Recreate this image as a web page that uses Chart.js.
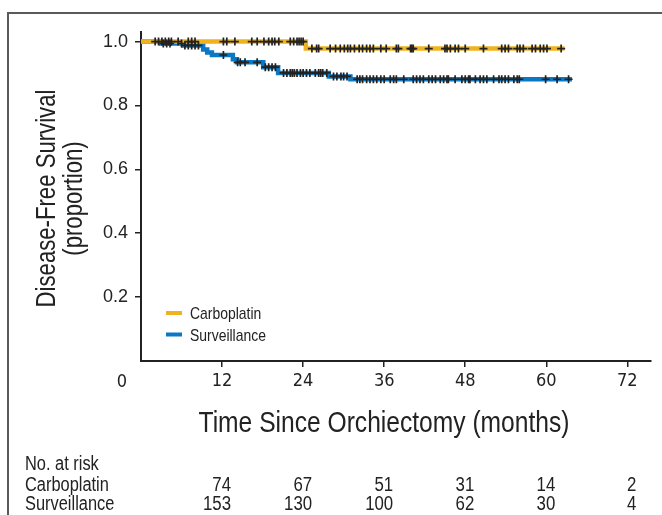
<!DOCTYPE html>
<html>
<head>
<meta charset="utf-8">
<script src="https://cdn.jsdelivr.net/npm/chart.js@4.4.1/dist/chart.umd.min.js"></script>
<style>
  html, body { margin: 0; padding: 0; background: #fff; }
  #wrap { position: relative; width: 662px; height: 515px; overflow: hidden; }
  #frame { position: absolute; left: 7px; top: 12px; width: 700px; height: 600px;
           border-top: 2px solid #5a5a5a; border-left: 2px solid #5a5a5a; }
  #c { position: absolute; left: 0; top: 0; }
</style>
</head>
<body>
<div id="wrap">
  <div id="frame"></div>
  <canvas id="c" width="662" height="515"></canvas>
</div>
<script>
// ---------------- data ----------------
const groups = ['Carboplatin', 'Surveillance'];
const xTickValues = [12, 24, 36, 48, 60, 72];
const yTickValues = [0.2, 0.4, 0.6, 0.8, 1.0];

// Kaplan-Meier steps (time in months, proportion disease-free)
const carboTimes = [0, 24.4, 62.7];
const carboSurv  = [1.0, 0.978, 0.978];
const survTimes  = [0, 3.0, 6.3, 9.2, 9.8, 10.5, 13.6, 14.2, 18.1, 20.3, 27.8, 31.0, 63.8];
const survSurv   = [1.0, 0.994, 0.988, 0.975, 0.966, 0.958, 0.945, 0.935, 0.920, 0.902, 0.891, 0.882, 0.882];

// censoring times (months)
const carboCensor = [2.1, 2.6, 3.1, 3.6, 4.1, 4.5, 5.5, 7.0, 7.5, 8.0, 12.2, 12.7, 13.9, 16.4, 17.2, 18.2,
  18.9, 19.4, 19.8, 20.4, 22.1, 22.6, 23.1, 23.4, 23.7, 24.0, 25.3, 26.0, 26.3, 28.0, 28.8, 29.5, 30.1,
  30.6, 31.0, 31.6, 32.3, 32.8, 33.4, 33.9, 34.4, 35.5, 36.3, 37.8, 38.1, 39.9, 40.1, 40.3, 42.6, 45.0,
  45.3, 45.8, 46.5, 47.0, 48.0, 50.7, 53.4, 53.9, 54.4, 55.7, 56.1, 56.6, 57.9, 58.4, 59.1, 59.6, 60.1, 62.2];
const survCensor = [3.3, 3.8, 4.3, 6.0, 6.5, 7.0, 7.5, 8.0, 8.5, 12.2, 14.3, 14.7, 15.4, 17.2, 18.4, 18.9,
  19.4, 19.9, 21.1, 21.6, 22.1, 22.4, 22.7, 23.1, 23.6, 24.0, 24.5, 25.0, 25.8, 26.3, 26.6, 26.9, 27.5,
  28.5, 29.0, 29.6, 30.0, 30.5, 32.0, 32.4, 32.8, 33.4, 33.9, 34.4, 34.9, 35.5, 36.0, 36.9, 37.4, 37.8,
  38.9, 40.3, 40.8, 41.3, 41.8, 42.6, 43.1, 43.6, 44.3, 44.8, 45.3, 45.5, 46.5, 47.5, 48.0, 48.5, 48.7,
  49.5, 50.2, 50.7, 51.2, 52.2, 53.0, 53.4, 53.9, 54.4, 55.2, 55.7, 56.0, 59.9, 61.6, 63.3];

// number at risk
const atRiskCarbo = [74, 67, 51, 31, 14, 2];
const atRiskSurv  = [153, 130, 100, 62, 30, 4];

const xTitle = 'Time Since Orchiectomy (months)';
const yTitle = ['Disease-Free Survival', '(proportion)'];
const riskHeader = 'No. at risk';

// ---------------- styling ----------------
const YELLOW = '#EFB321';
const BLUE = '#0A78C3';
const INK = '#222222';
const SANS = "'Liberation Sans', Arial, sans-serif";
const COND = "'DejaVu Sans Condensed', 'Liberation Sans', sans-serif";
const NARROW_X = 0.82;   // horizontal compression for a narrow sans look

function survAt(times, surv, t) {
  let v = surv[0];
  for (let i = 0; i < times.length; i++) { if (times[i] <= t) v = surv[i]; }
  return v;
}
const curvePts = (times, surv) => times.map((t, i) => ({ x: t, y: surv[i] }));
const censorPts = (cens, times, surv) => cens.map(t => ({ x: t, y: survAt(times, surv, t) }));

function narrowText(ctx, text, x, y, size, align) {
  ctx.save();
  ctx.translate(x, y);
  ctx.scale(NARROW_X, 1);
  ctx.font = size + 'px ' + SANS;
  ctx.textAlign = align;
  ctx.fillText(text, 0, 0);
  ctx.restore();
}

const decor = {
  id: 'decor',
  afterDraw(chart) {
    const { ctx, chartArea: ca, scales: { x } } = chart;
    ctx.save();
    ctx.fillStyle = INK;
    // "0" x label (offset left of the origin)
    ctx.font = '18px ' + COND;
    ctx.textAlign = 'center';
    ctx.textBaseline = 'middle';
    ctx.fillText('0', x.getPixelForValue(0) - 19, ca.bottom + 21);
    ctx.textBaseline = 'alphabetic';
    // x title
    narrowText(ctx, xTitle, 384, ca.bottom + 71, 30, 'center');
    // y title
    ctx.save();
    ctx.translate(55, (ca.top + ca.bottom) / 2 + 2);
    ctx.rotate(-Math.PI / 2);
    narrowText(ctx, yTitle[0], 0, 0, 27, 'center');
    narrowText(ctx, yTitle[1], 0, 27, 27, 'center');
    ctx.restore();
    // legend
    const legendColors = [YELLOW, BLUE];
    groups.forEach((g, i) => {
      const yy = ca.top + 281 + i * 21.5;
      ctx.strokeStyle = legendColors[i];
      ctx.lineWidth = 4;
      ctx.beginPath();
      ctx.moveTo(ca.left + 25, yy);
      ctx.lineTo(ca.left + 41, yy);
      ctx.stroke();
      ctx.fillStyle = INK;
      narrowText(ctx, g, ca.left + 49, yy + 6, 17, 'left');
    });
    // number at risk table
    narrowText(ctx, riskHeader, 25, 470, 20, 'left');
    narrowText(ctx, groups[0], 25, 491, 20, 'left');
    narrowText(ctx, groups[1], 25, 510, 20, 'left');
    xTickValues.forEach((t, i) => {
      const px = x.getPixelForValue(t) + 9;
      narrowText(ctx, String(atRiskCarbo[i]), px, 491, 20.5, 'right');
      narrowText(ctx, String(atRiskSurv[i]), px, 510, 20.5, 'right');
    });
    ctx.restore();
  }
};

Chart.defaults.color = INK;

new Chart(document.getElementById('c'), {
  type: 'line',
  data: {
    datasets: [
      { label: 'Carboplatin censored', data: censorPts(carboCensor, carboTimes, carboSurv),
        showLine: false, pointStyle: 'cross', pointRadius: 4, pointBorderWidth: 1.7,
        pointBorderColor: INK, pointBackgroundColor: INK },
      { label: 'Surveillance censored', data: censorPts(survCensor, survTimes, survSurv),
        showLine: false, pointStyle: 'cross', pointRadius: 4, pointBorderWidth: 1.7,
        pointBorderColor: INK, pointBackgroundColor: INK },
      { label: groups[0], data: curvePts(carboTimes, carboSurv), stepped: 'before',
        borderColor: YELLOW, borderWidth: 4.5, pointRadius: 0, fill: false },
      { label: groups[1], data: curvePts(survTimes, survSurv), stepped: 'before',
        borderColor: BLUE, borderWidth: 4.5, pointRadius: 0, fill: false }
    ]
  },
  options: {
    responsive: false,
    animation: false,
    events: [],
    layout: { padding: { left: 0, right: 11, top: 32, bottom: 0 } },
    plugins: { legend: { display: false }, tooltip: { enabled: false } },
    scales: {
      x: {
        type: 'linear', min: 0, max: 75.5,
        afterBuildTicks: s => { s.ticks = xTickValues.map(v => ({ value: v })); },
        afterFit: s => { s.height = 154; },
        grid: { display: true, drawOnChartArea: false, drawTicks: true, tickLength: 6, color: INK, lineWidth: 1.5 },
        border: { display: true, color: INK, width: 2 },
        ticks: { font: { family: COND, size: 18 }, color: INK, padding: 4, maxRotation: 0 }
      },
      y: {
        type: 'linear', min: 0, max: 1.03,
        afterBuildTicks: s => { s.ticks = yTickValues.map(v => ({ value: v })); },
        afterFit: s => { s.width = 141; },
        grid: { display: true, drawOnChartArea: false, drawTicks: true, tickLength: 6, color: INK, lineWidth: 1.5 },
        border: { display: true, color: INK, width: 2 },
        ticks: { font: { family: SANS, size: 18 }, color: INK, padding: 7, callback: v => v.toFixed(1) }
      }
    }
  },
  plugins: [decor]
});
</script>
</body>
</html>
